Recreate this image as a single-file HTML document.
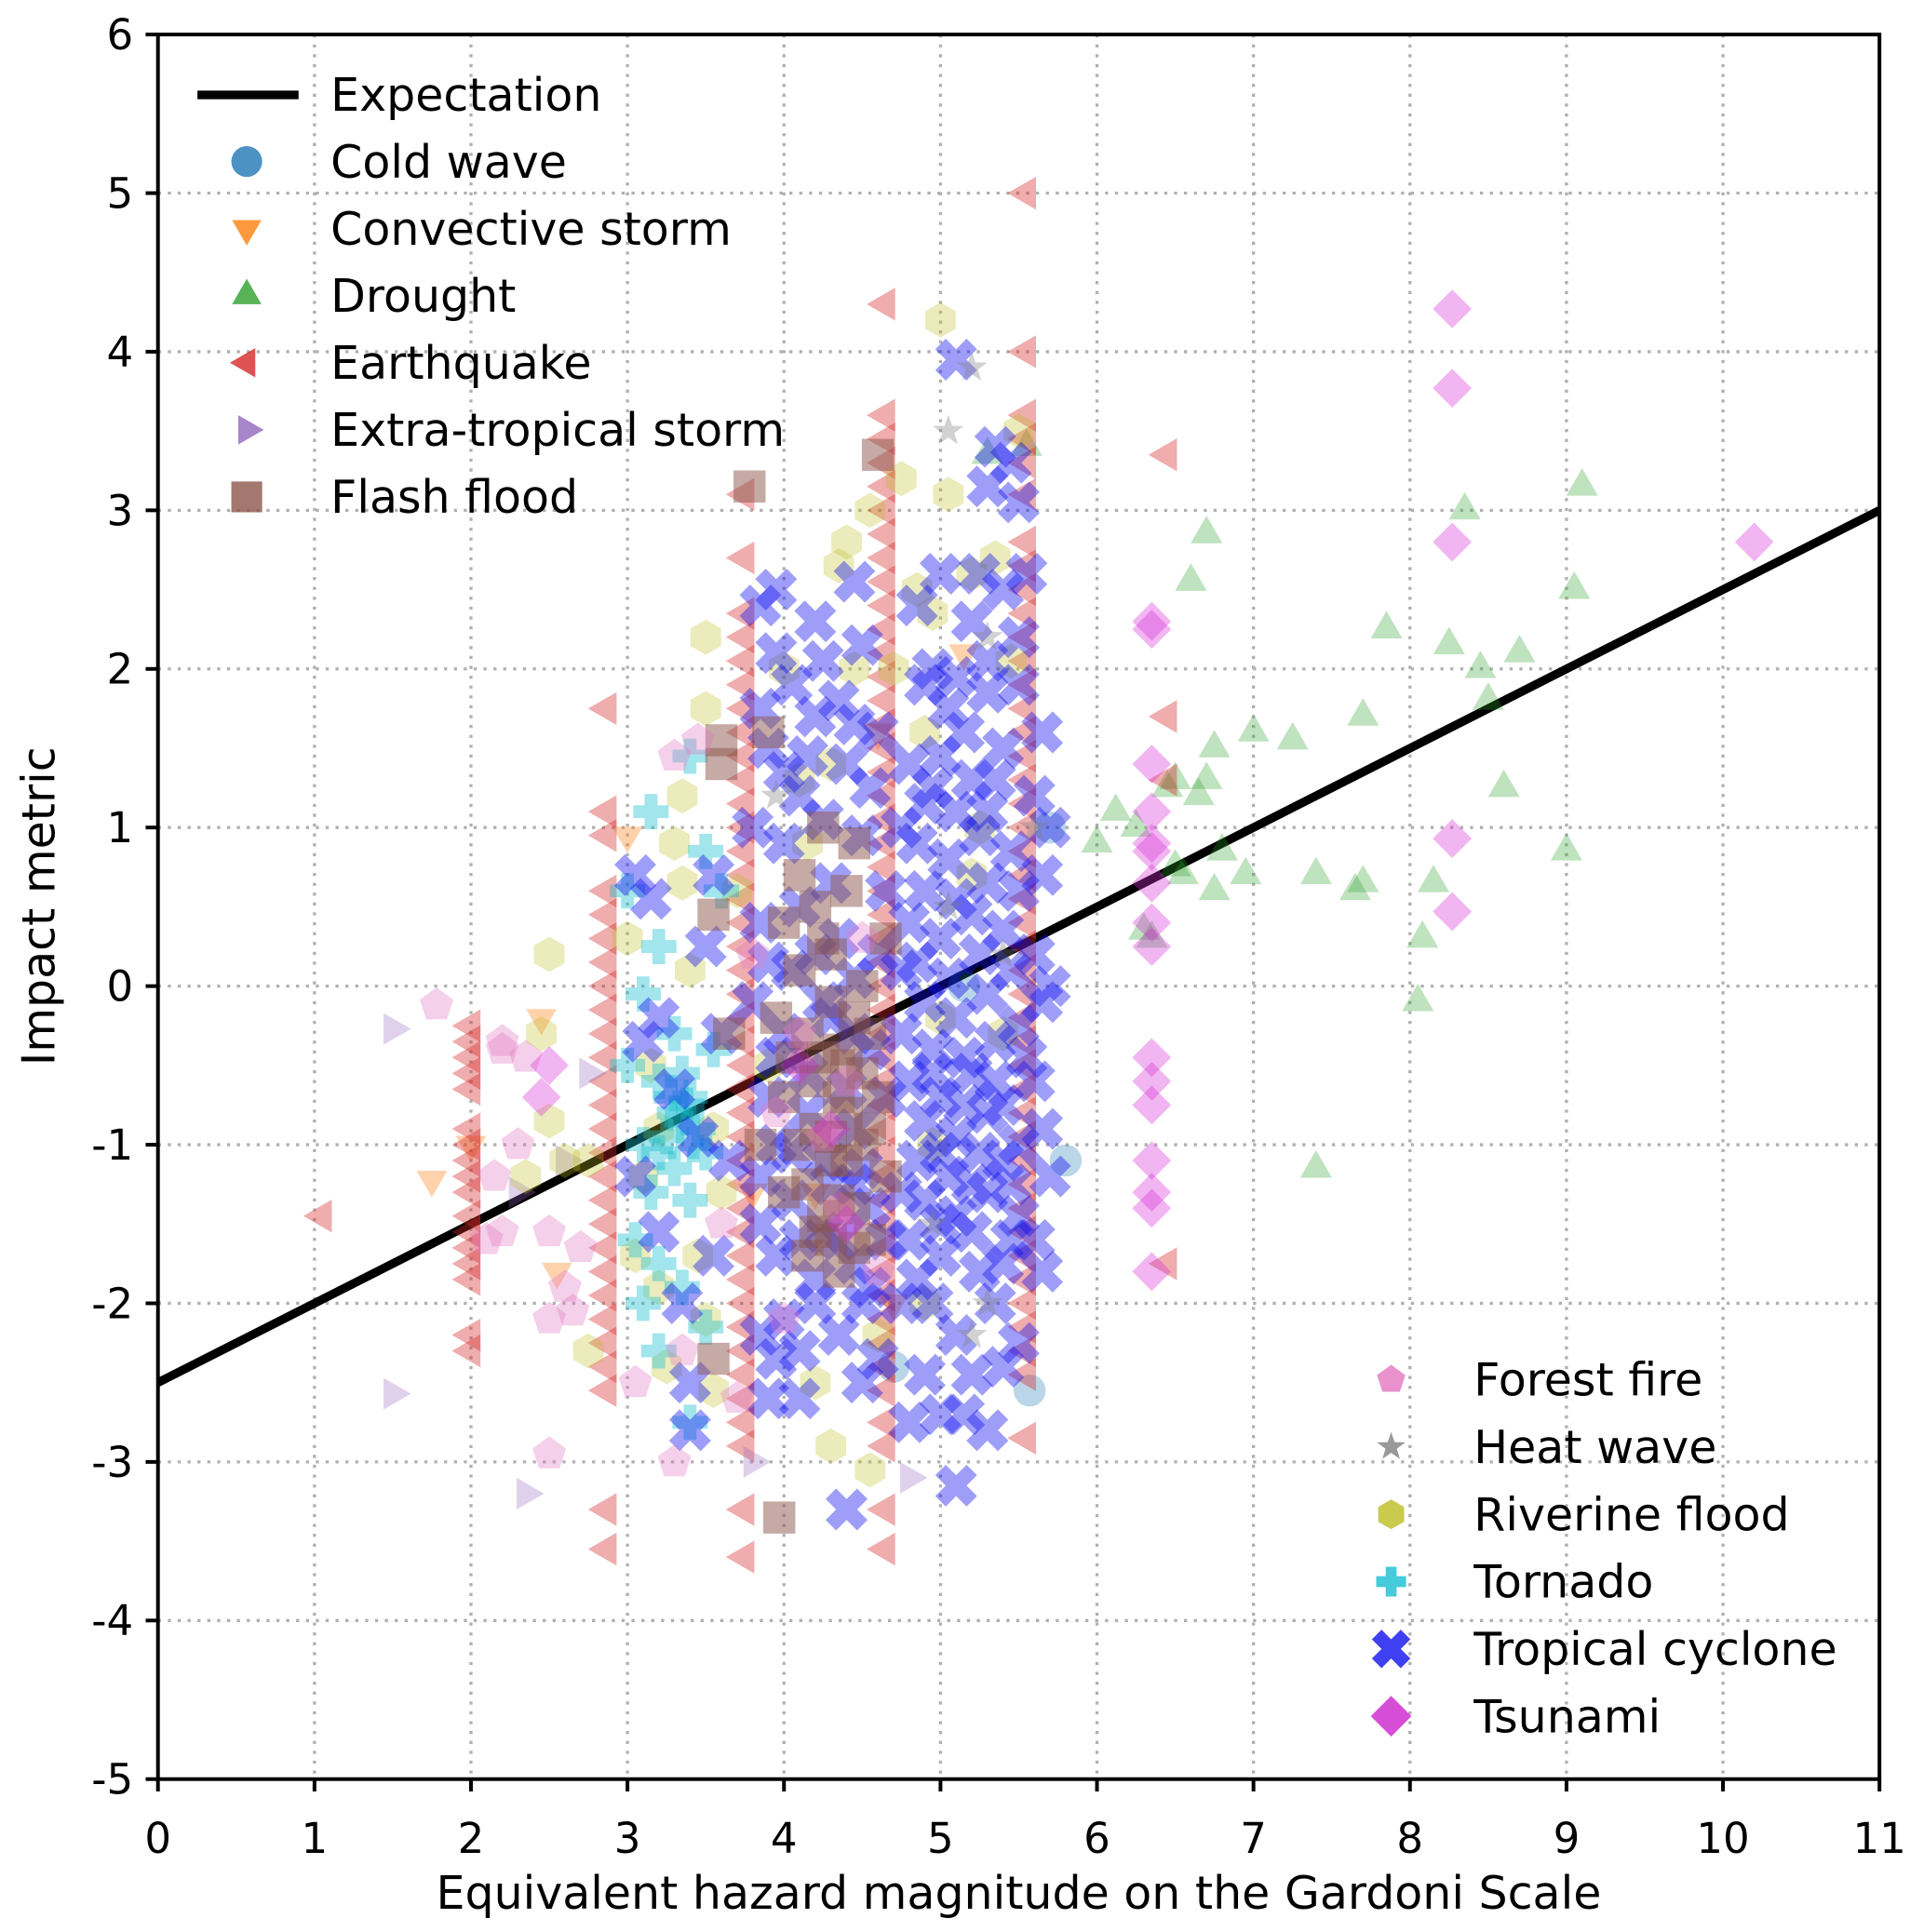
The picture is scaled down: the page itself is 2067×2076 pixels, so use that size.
<!DOCTYPE html>
<html><head><meta charset="utf-8"><style>html,body{margin:0;padding:0;background:#fff}svg{display:block}text{font-family:"DejaVu Sans","Liberation Sans",sans-serif;fill:#000}</style></head>
<body>
<svg id="chart" width="2067" height="2076" viewBox="0 0 1560 1567" xmlns="http://www.w3.org/2000/svg">
<g id="grid"></g>
<g id="line"></g>
<g id="marks"></g>
<g id="axes"></g>
<g id="legend"></g>
</svg>
<script>
const xTicks=[0,1,2,3,4,5,6,7,8,9,10,11];
const yTicks=[-5,-4,-3,-2,-1,0,1,2,3,4,5,6];
const lineX=[0,11];
const lineY=[-2.5,3.0];
const coldWave=[[5.8,-1.1],[5.57,-2.55],[4.7,-2.4],[5.7,1.0],[5.15,0.0]];
const convective=[[1.75,-1.22],[2.55,-1.8],[2.45,-0.2],[3.0,0.95],[2.0,-1.0],[4.6,1.6],[4.2,-1.3],[3.8,-1.3],[5.15,2.1],[4.7,-2.0]];
const drought=[[5.3,3.35],[6.12,1.1],[6.25,1.0],[6.3,0.35],[6.35,0.3],[6.45,1.25],[6.5,1.3],[6.55,0.7],[6.6,2.55],[6.65,1.2],[6.7,1.3],[6.7,2.85],[6.75,1.5],[6.8,0.85],[6.75,0.6],[6.95,0.7],[7.0,1.6],[7.25,1.55],[7.4,0.7],[7.4,-1.15],[7.65,0.6],[7.7,1.7],[7.7,0.65],[7.85,2.25],[8.05,-0.1],[8.08,0.3],[8.15,0.65],[8.25,2.15],[8.35,3.0],[8.45,2.0],[8.5,1.8],[8.6,1.25],[8.7,2.1],[9.0,0.85],[9.05,2.5],[9.1,3.15],[6.0,0.9],[5.55,3.4],[6.5,0.75]];
const earthquake=[[1.05,-1.45],
[2.0,-0.25],[2.0,-0.35],[2.0,-0.45],[2.0,-0.55],[2.0,-0.65],[2.0,-0.9],[2.0,-1.0],[2.0,-1.1],[2.0,-1.2],[2.0,-1.3],[2.0,-1.45],[2.0,-1.55],[2.0,-1.65],[2.0,-1.75],[2.0,-1.85],[2.0,-2.2],[2.0,-2.3],
[2.87,1.75],[2.87,1.1],[2.87,0.95],[2.87,0.6],[2.87,0.45],[2.87,0.3],[2.87,0.15],[2.87,0.0],[2.87,-0.15],[2.87,-0.3],[2.87,-0.45],[2.87,-0.6],[2.87,-0.75],[2.87,-0.9],[2.87,-1.05],[2.87,-1.2],[2.87,-1.35],[2.87,-1.5],[2.87,-1.65],[2.87,-1.8],[2.87,-1.95],[2.87,-2.1],[2.87,-2.25],[2.87,-2.4],[2.87,-2.55],[2.87,-3.3],[2.87,-3.55],
[3.75,3.1],[3.75,2.7],[3.75,2.35],[3.75,2.2],[3.75,2.05],[3.75,1.9],[3.75,1.75],[3.75,1.6],[3.75,1.45],[3.75,1.3],[3.75,1.15],[3.75,1.0],[3.75,0.85],[3.75,0.7],[3.75,0.55],[3.75,0.4],[3.75,0.25],[3.75,0.1],[3.75,-0.05],[3.75,-0.2],[3.75,-0.35],[3.75,-0.5],[3.75,-0.65],[3.75,-0.8],[3.75,-0.95],[3.75,-1.1],[3.75,-1.25],[3.75,-1.4],[3.75,-1.55],[3.75,-1.7],[3.75,-1.85],[3.75,-2.0],[3.75,-2.15],[3.75,-2.3],[3.75,-2.45],[3.75,-2.6],[3.75,-2.75],[3.75,-2.9],[3.75,-3.3],[3.75,-3.6],
[4.65,4.3],[4.65,3.6],[4.65,3.45],[4.65,3.3],[4.65,3.15],[4.65,3.0],[4.65,2.85],[4.65,2.7],[4.65,2.55],[4.65,2.4],[4.65,2.25],[4.65,2.1],[4.65,1.95],[4.65,1.8],[4.65,1.65],[4.65,1.5],[4.65,1.35],[4.65,1.2],[4.65,1.05],[4.65,0.9],[4.65,0.75],[4.65,0.6],[4.65,0.45],[4.65,0.3],[4.65,0.15],[4.65,0.0],[4.65,-0.15],[4.65,-0.3],[4.65,-0.45],[4.65,-0.6],[4.65,-0.75],[4.65,-0.9],[4.65,-1.05],[4.65,-1.2],[4.65,-1.35],[4.65,-1.5],[4.65,-1.65],[4.65,-1.8],[4.65,-1.95],[4.65,-2.1],[4.65,-2.25],[4.65,-2.4],[4.65,-2.55],[4.65,-2.75],[4.65,-2.9],[4.65,-3.3],[4.65,-3.55],
[5.55,5.0],[5.55,4.0],[5.55,3.6],[5.55,3.45],[5.55,3.3],[5.55,3.1],[5.55,2.8],[5.55,2.65],[5.55,2.5],[5.55,2.35],[5.55,2.2],[5.55,2.05],[5.55,1.9],[5.55,1.75],[5.55,1.6],[5.55,1.45],[5.55,1.3],[5.55,1.15],[5.55,1.0],[5.55,0.85],[5.55,0.7],[5.55,0.55],[5.55,0.4],[5.55,0.25],[5.55,0.1],[5.55,-0.05],[5.55,-0.2],[5.55,-0.35],[5.55,-0.5],[5.55,-0.65],[5.55,-0.8],[5.55,-0.95],[5.55,-1.1],[5.55,-1.25],[5.55,-1.4],[5.55,-1.55],[5.55,-1.7],[5.55,-1.85],[5.55,-2.0],[5.55,-2.15],[5.55,-2.3],[5.55,-2.45],[5.55,-2.85],
[6.45,3.35],[6.45,1.7],[6.45,1.3],[6.45,-1.75]];
const extraTropical=[[1.5,-0.27],[1.5,-2.57],[2.35,-3.2],[4.8,-3.1],[2.75,-0.55],[2.6,-1.1],[3.8,-3.0],[2.3,-1.3]];
const flashFlood=[[3.78,3.15],[4.6,3.35],[3.6,1.4],[3.55,0.45],[3.9,1.6],[3.97,-3.35],[3.65,-0.3],[4.0,0.4],[4.2,0.5],[4.4,0.6],[4.1,0.1],[4.3,0.2],[4.5,0.0],[3.95,-0.2],[4.15,-0.3],[4.35,-0.4],[4.55,-0.3],[4.0,-0.7],[4.2,-0.6],[4.4,-0.8],[4.6,-0.7],[4.1,-1.0],[4.3,-1.1],[4.5,-1.0],[4.0,-1.3],[4.25,-1.45],[4.45,-1.4],[4.15,-1.7],[4.35,-1.8],[4.55,-1.6],[4.25,1.0],[4.45,0.9],[4.2,-0.9],[4.4,-0.5],[4.3,-0.1],[3.85,-1.0],[4.65,-1.2],[4.65,0.3],[3.55,-2.35],[3.6,1.55],
[4.25,-0.45],[4.35,-0.7],[4.45,-0.2],[4.15,-1.25],[4.35,-1.35],[4.5,-0.55],[4.05,-0.45],[4.3,-0.95],[4.2,-1.55],[4.4,-1.1],[4.25,0.3],[4.1,0.7],[4.55,-0.9],[4.3,-1.6],[4.45,-1.65]];
const forestFire=[[1.78,-0.12],[2.2,-0.4],[2.35,-0.45],[2.3,-1.0],[2.15,-1.2],[2.2,-1.55],[2.1,-1.6],[2.5,-1.55],[2.5,-2.1],[2.65,-2.05],[2.5,-2.95],[2.6,-1.9],[2.2,-0.35],[3.3,1.45],[3.45,1.55],[3.3,-3.0],[3.35,-2.3],[3.05,-2.5],[3.7,-2.6],[3.95,-0.8],[4.1,-0.3],[4.25,-0.95],[4.35,-1.4],[4.4,-0.6],[3.8,0.2],[4.5,0.3],[2.7,-1.65],[3.6,-1.5],[4.0,-2.1],[4.6,-1.8]];
const heatWave=[[5.05,3.5],[5.2,3.9],[5.3,2.2],[5.2,-2.2],[5.3,-2.0],[4.95,-1.5],[5.4,0.2],[5.6,1.0],[3.95,1.2],[5.05,0.5]];
const riverine=[[5.0,4.2],[4.75,3.2],[4.55,3.0],[4.35,2.65],[4.4,2.8],[2.75,-1.1],[3.5,2.2],[3.5,1.75],[3.35,1.2],[3.3,0.9],[3.35,0.65],[2.5,0.2],[2.45,-0.3],[2.5,-0.85],[2.6,-1.1],[2.35,-1.2],[3.25,-2.4],[3.5,-2.1],[3.55,-2.55],[4.3,-2.9],[4.55,-3.05],[4.9,-2.0],[5.05,3.1],[5.2,2.6],[5.35,2.7],[5.5,3.5],[5.45,2.05],[4.85,2.5],[4.95,2.35],[4.7,2.0],[4.0,2.0],[4.3,1.4],[3.7,0.6],[3.9,-0.5],[3.2,-0.9],[3.05,-1.7],[3.6,-1.3],[4.2,-2.5],[4.6,-2.2],[5.2,0.7],[5.0,-0.2],[3.0,0.3],[3.15,-0.5],[2.75,-2.3],[3.45,-1.7],[4.15,0.9],
[3.4,0.1],[3.1,-1.2],[3.55,-0.9],[3.2,-1.9],[4.1,1.3],[4.45,2.0],[4.9,1.6],[5.25,1.0],[5.4,-0.3],[4.95,-1.0]];
const tornado=[[3.15,1.1],[3.4,1.45],[3.5,0.85],[3.6,0.6],[3.2,0.25],[3.1,-0.05],[3.3,-0.3],[3.0,-0.5],[3.2,-0.6],[3.4,-0.7],[3.35,-0.85],[3.25,-0.95],[3.45,-0.9],[3.1,-1.0],[3.5,-1.05],[3.3,-1.15],[3.15,-1.3],[3.4,-1.35],[3.2,-1.75],[3.35,-1.9],[3.1,-2.0],[3.2,-2.3],[3.5,-2.15],[3.4,-2.75],[3.05,-1.6],[3.55,-0.4],[3.0,0.6],[3.3,-0.8],[3.38,-0.75],[3.28,-0.7],[3.42,-1.0],[3.2,-1.05],[3.35,-0.55]];
const tropical=[[3.05,0.7],[3.15,0.55],[3.2,-0.2],[3.1,-0.35],[3.3,-0.65],[3.45,-0.95],[3.05,-1.2],[3.2,-1.55],[3.35,-2.0],[3.4,-2.5],[3.4,-2.8],[3.5,0.25],[3.55,-1.7],[3.6,-0.3],
[3.85,2.4],[3.95,2.1],[4.2,2.3],[4.45,2.55],[4.5,2.15],[4.35,1.8],[4.05,1.9],[3.9,1.5],[4.15,1.45],[4.4,1.4],[4.6,1.6],[3.8,1.0],[4.0,0.9],[4.25,1.05],[4.5,0.95],[4.65,0.6],[3.85,0.4],[4.1,0.5],[4.35,0.3],[4.6,0.2],[3.8,-0.1],[4.0,-0.3],[4.3,-0.2],[4.55,-0.4],[3.9,-0.7],[4.15,-0.8],[4.45,-0.9],[4.65,-0.7],[3.85,-1.2],[4.05,-1.35],[4.3,-1.25],[4.55,-1.4],[3.95,-1.7],[4.2,-1.85],[4.45,-1.75],[4.65,-1.6],[3.85,-2.2],[4.1,-2.3],[4.35,-2.2],[4.6,-2.35],[3.9,-2.6],[4.0,-2.1],[4.4,-3.3],[4.5,-2.0],[3.95,2.5],
[4.85,2.4],[5.0,2.6],[5.2,2.3],[5.4,2.5],[5.5,2.2],[5.1,3.95],[5.35,3.4],[5.3,3.15],[5.5,3.05],[5.45,3.3],[4.9,1.9],[5.1,1.95],[5.3,1.85],[5.5,1.9],[5.65,1.6],[4.8,1.4],[5.0,1.45],[5.2,1.3],[5.4,1.5],[5.6,1.2],[4.85,0.9],[5.05,0.8],[5.25,0.95],[5.45,0.85],[5.65,0.7],[4.8,0.4],[5.0,0.3],[5.2,0.45],[5.4,0.35],[5.6,0.2],[4.9,-0.1],[5.1,-0.2],[5.3,-0.05],[5.5,-0.25],[5.65,-0.1],[4.8,-0.6],[5.0,-0.7],[5.2,-0.55],[5.4,-0.75],[5.6,-0.6],[4.85,-1.1],[5.05,-1.2],[5.25,-1.05],[5.45,-1.25],[5.65,-0.9],[4.8,-1.6],[5.0,-1.7],[5.2,-1.55],[5.4,-1.75],[5.6,-1.6],[4.95,-2.0],[5.1,-2.2],[5.35,-2.0],[5.5,-2.25],[5.0,-2.7],[5.15,-2.7],[5.3,-2.8],[4.8,-2.75],[5.1,-3.15],[4.9,-2.45],[5.65,-1.8],[4.75,0.1],[4.75,-0.3],[4.75,1.0],[4.75,-1.3],[4.75,-2.0],[5.7,0.0],[5.7,-1.2],[5.7,1.0],[5.55,2.6],[5.25,2.6],[4.95,2.0],
[4.9,1.15],[5.1,1.1],[5.3,1.1],[5.5,0.6],[4.9,0.6],[5.1,0.55],[5.3,0.65],[4.95,-0.4],[5.15,-0.45],[5.35,-0.35],[5.55,-0.45],[4.9,-0.85],[5.1,-0.95],[5.3,-0.8],[5.5,-1.0],[4.9,-1.35],[5.1,-1.45],[5.3,-1.3],[5.5,-1.45],[3.9,0.15],[4.2,0.2],[4.45,0.05],[3.95,-1.0],[4.25,-1.55],[4.5,-1.15],[4.1,1.2],[4.3,0.65],[4.55,1.25],
[4.85,0.15],[5.05,0.05],[5.25,0.2],[5.45,0.1],[4.95,-0.55],[5.15,-0.75],[5.35,-0.6],[5.0,-1.05],[5.2,-1.25],[5.4,-1.1],[5.0,-1.5],[5.25,-1.8],[5.45,-1.6],[4.95,1.25],[5.15,1.6],[5.35,1.3],[5.05,1.75],[5.3,2.05],[4.85,-1.85],[5.2,-2.45],[5.4,-2.4],[4.05,0.1],[4.25,-0.1],[4.45,-0.3],[3.95,-0.45],[4.15,-0.55],[4.4,-0.65],[4.05,-1.05],[4.25,-1.1],[4.45,-1.25],[4.1,-1.6],[4.35,-1.6],[4.55,-1.9],[3.85,1.75],[4.2,1.7],[4.45,1.65],[4.0,1.35],[4.25,2.05],[3.85,-1.5],[4.2,-2.0],[4.5,-2.5],[3.95,-2.35],[4.1,-2.6],[3.65,-1.1],[3.55,0.7]];
const tsunami=[[2.5,-0.5],[2.45,-0.7],[4.4,-1.5],[4.3,-0.9],[4.1,-0.5],[6.35,2.3],[6.35,2.25],[6.35,1.4],[6.35,1.1],[6.35,0.9],[6.35,0.85],[6.35,0.65],[6.35,0.4],[6.35,0.25],[6.35,-0.45],[6.35,-0.6],[6.35,-0.75],[6.35,-1.1],[6.35,-1.3],[6.35,-1.4],[6.35,-1.8],[8.27,4.27],[8.27,3.77],[8.27,2.8],[8.27,0.93],[8.27,0.47],[10.2,2.8]];

const NS='http://www.w3.org/2000/svg';
const X0=128,X1=1524,Y0=1443,Y1=28,XMIN=0,XMAX=11,YMIN=-5,YMAX=6;
function sx(v){return X0+(v-XMIN)/(XMAX-XMIN)*(X1-X0);}
function sy(v){return Y0-(v-YMIN)/(YMAX-YMIN)*(Y0-Y1);}
function mk(tag,attrs,parent){const e=document.createElementNS(NS,tag);for(const k in attrs)e.setAttribute(k,attrs[k]);parent.appendChild(e);return e;}
function poly(pts){return pts.map(p=>p[0].toFixed(1)+','+p[1].toFixed(1)).join(' ');}
function regular(n,r,rot){const a=[];for(let i=0;i<n;i++){const t=rot+i*2*Math.PI/n;a.push([r*Math.cos(t),r*Math.sin(t)]);}return a;}
function star(r){const a=[];for(let i=0;i<10;i++){const t=-Math.PI/2+i*Math.PI/5;const rr=i%2?r*0.4:r;a.push([rr*Math.cos(t),rr*Math.sin(t)]);}return a;}
function plus(r,w){return [[-w,-r],[w,-r],[w,-w],[r,-w],[r,w],[w,w],[w,r],[-w,r],[-w,w],[-r,w],[-r,-w],[-w,-w]];}
function rot45(p){const c=Math.SQRT1_2;return p.map(q=>[(q[0]-q[1])*c,(q[0]+q[1])*c]);}
const shapes={
 circle:null,
 down:regular(3,11,Math.PI/2),
 up:regular(3,11,-Math.PI/2),
 left:regular(3,11,Math.PI),
 right:regular(3,11,0),
 square:[[-10,-10],[10,-10],[10,10],[-10,10]],
 pent:regular(5,11,-Math.PI/2),
 star:star(11),
 hex:regular(6,11,-Math.PI/2),
 plus:plus(11,4),
 x:rot45(plus(15,5)),
 diamond:[[0,-15],[15,0],[0,15],[-15,0]]
};
function drawMarker(parent,shape,cx,cy,color,op,scale){
 scale=scale||1;
 let e;
 if(shape==='circle'){e=mk('circle',{cx:cx,cy:cy,r:10*scale,fill:color,'fill-opacity':op},parent);}
 else{e=mk('polygon',{points:poly(shapes[shape].map(p=>[cx+p[0]*scale,cy+p[1]*scale])),fill:color,'fill-opacity':op},parent);}
 return e;
}
const grid=document.getElementById('grid');
xTicks.forEach(t=>{if(t>XMIN&&t<XMAX){const l=mk('line',{x1:sx(t),x2:sx(t),y1:Y1,y2:Y0,stroke:'#b0b0b0','stroke-width':2.5,'stroke-dasharray':'2.5,5.5'},grid);

}});
yTicks.forEach(t=>{if(t>YMIN&&t<YMAX){const l=mk('line',{x1:X0,x2:X1,y1:sy(t),y2:sy(t),stroke:'#b0b0b0','stroke-width':2.5,'stroke-dasharray':'2.5,5.5'},grid);

}});
const ln=mk('line',{x1:sx(lineX[0]),y1:sy(lineY[0]),x2:sx(lineX[1]),y2:sy(lineY[1]),stroke:'#000','stroke-width':7},document.getElementById('line'));


const marks=document.getElementById('marks');
const series=[
 ['cold-wave',coldWave,'circle','#1f77b4',0.3,1.3],
 ['convective-storm',convective,'down','#ff7f0e',0.35,1.3],
 ['drought',drought,'up','#2ca02c',0.3,1.35],
 ['earthquake',earthquake,'left','#d62728',0.38,1.4],
 ['extra-tropical-storm',extraTropical,'right','#9467bd',0.3,1.35],
 ['riverine-flood',riverine,'hex','#bcbd22',0.3,1.3],
 ['tornado',tornado,'plus','#17becf',0.4,1.3],
 ['tropical-cyclone',tropical,'x','#0c0cf0',0.4,1.2],
 ['flash-flood',flashFlood,'square','#8c564b',0.5,1.3],
 ['forest-fire',forestFire,'pent','#e377c2',0.35,1.3],
 ['heat-wave',heatWave,'star','#7f7f7f',0.35,1.2],
 ['tsunami',tsunami,'diamond','#d62ad6',0.35,1.05]
];
series.forEach(s=>{
 const g=mk('g',{},marks);
 
 
 s[1].forEach(p=>{
  const m=drawMarker(g,s[2],sx(p[0]),sy(p[1]),s[3],s[4],s[5]);
  
  
 });
});
const axes=document.getElementById('axes');
const fr=mk('rect',{x:X0,y:Y1,width:X1-X0,height:Y0-Y1,fill:'none',stroke:'#000','stroke-width':3},axes);


xTicks.forEach(t=>{
 const tk=mk('line',{x1:sx(t),x2:sx(t),y1:Y0,y2:Y0+10,stroke:'#000','stroke-width':3},axes);
 
 
 const tx=mk('text',{x:sx(t),y:Y0+60,'text-anchor':'middle','font-size':34},axes);
 tx.textContent=t;
 
 
});
yTicks.forEach(t=>{
 const tk=mk('line',{x1:X0-10,x2:X0,y1:sy(t),y2:sy(t),stroke:'#000','stroke-width':3},axes);
 
 
 const tx=mk('text',{x:X0-20,y:sy(t)+12,'text-anchor':'end','font-size':34},axes);
 tx.textContent=t;
 
 
});
const xt=mk('text',{x:(X0+X1)/2,y:1548,'text-anchor':'middle','font-size':37},axes);
xt.textContent='Equivalent hazard magnitude on the Gardoni Scale';


const yt=mk('text',{x:0,y:0,'text-anchor':'middle','font-size':37,transform:'translate(44,735) rotate(-90)'},axes);
yt.textContent='Impact metric';


const leg=document.getElementById('legend');
const ll=mk('line',{x1:160,x2:242,y1:77,y2:77,stroke:'#000','stroke-width':7},leg);


const lt=mk('text',{x:268,y:90,'font-size':37},leg);
lt.textContent='Expectation';


const legA=[['Cold wave','circle','#1f77b4'],['Convective storm','down','#ff7f0e'],['Drought','up','#2ca02c'],['Earthquake','left','#d62728'],['Extra-tropical storm','right','#9467bd'],['Flash flood','square','#8c564b']];
const legB=[['Forest fire','pent','#e377c2'],['Heat wave','star','#7f7f7f'],['Riverine flood','hex','#bcbd22'],['Tornado','plus','#17becf'],['Tropical cyclone','x','#1010f0'],['Tsunami','diamond','#cc22cc']];
legA.forEach((e,i)=>{
 const y=131+i*54.4;
 const m=drawMarker(leg,e[1],200,y,e[2],0.8,1.25);
 
 
 const t=mk('text',{x:268,y:y+13,'font-size':37},leg);
 t.textContent=e[0];
 
 
});
legB.forEach((e,i)=>{
 const y=1119+i*54.6;
 const m=drawMarker(leg,e[1],1128,y,e[2],0.8,1.1);
 
 
 const t=mk('text',{x:1195,y:y+13,'font-size':37},leg);
 t.textContent=e[0];
 
 
});
</script>
</body></html>
